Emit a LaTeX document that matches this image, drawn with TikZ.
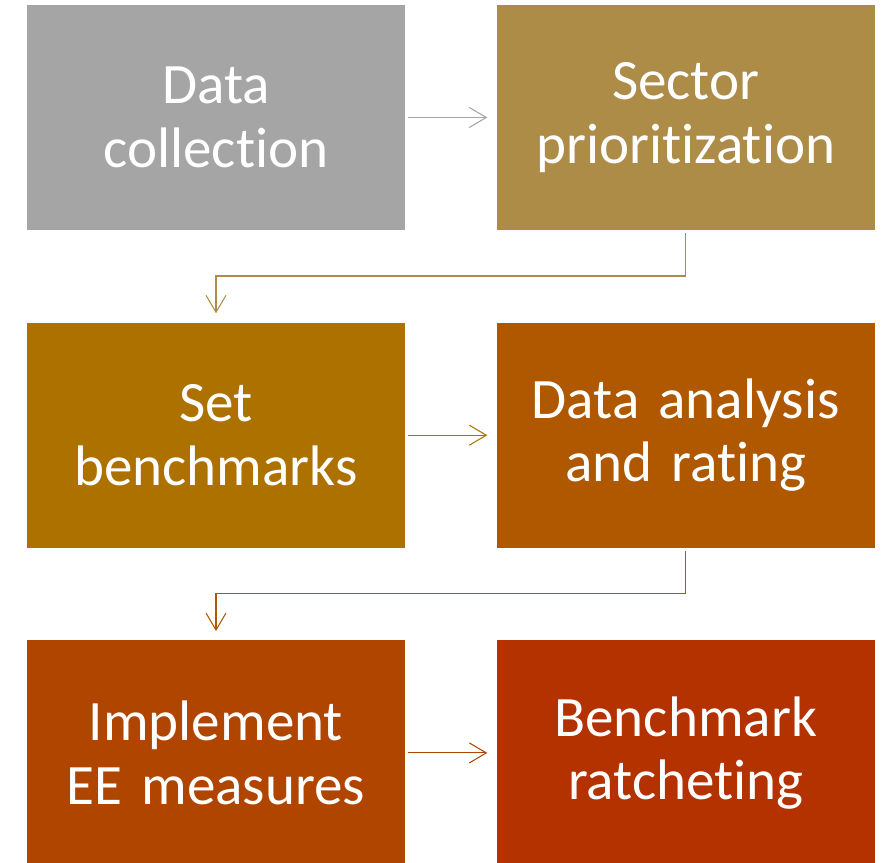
\documentclass[tikz,border=0pt]{standalone}
\usepackage{fontspec}
\setmainfont{Carlito}[Ligatures=NoCommon]
\usetikzlibrary{positioning,arrows.meta}
\definecolor{stepGray}{HTML}{A5A5A5}
\definecolor{stepOne}{HTML}{AD8C48}
\definecolor{stepTwo}{HTML}{AD7100}
\definecolor{stepThree}{HTML}{AF5800}
\definecolor{stepFour}{HTML}{B04500}
\definecolor{stepFive}{HTML}{B33200}
\tikzset{
    stepbox/.style = {
        minimum width=7.56cm,
        minimum height=4.5cm,
        text width=7.4cm,
        align=center,
        text = white,
        font = \fontsize{32.5}{36}\selectfont,
        inner sep=0pt,
        },
    flow/.style = {
        line width=0.6pt,
        -{Straight Barb[length=0.34cm,width=0.4cm,line width=0.6pt]},
        shorten <=0.06cm,
        shorten >=0.18cm,
        },
}
\begin{document}
\begin{tikzpicture}[node distance=1.82cm and 1.82cm]
            \useasboundingbox (0,0) rectangle (17.68,-17.24);
            \node[stepbox, fill=stepGray] (dc) at (4.32,-2.35) {Data\\collection};
            \node[stepbox, fill=stepOne, right=of dc] (sp) {Sector\\prioritization};
            \node[stepbox, fill=stepTwo, below=1.84cm of dc] (sb) {Set\\benchmarks};
            \node[stepbox, fill=stepThree, right=of sb] (da) {Data analysis\\and rating};
            \node[stepbox, fill=stepFour, below=1.84cm of sb] (im) {Implement\\EE measures};
            \node[stepbox, fill=stepFive, right=of im] (br) {Benchmark\\ratcheting};

            \draw[flow, stepGray] (dc) -- (sp);
            \draw[flow, stepOne] (sp) -- ++(0,-3.17) -| (sb);
            \draw[flow, stepTwo] (sb) -- (da);
            \draw[flow, stepThree] (da) -- ++(0,-3.17) -| (im);
            \draw[flow, stepFour] (im) -- (br);
        \end{tikzpicture}
\end{document}
